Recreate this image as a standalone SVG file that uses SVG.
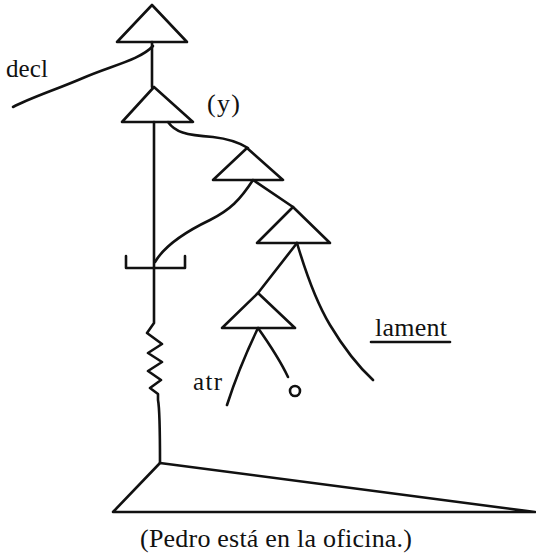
<svg xmlns="http://www.w3.org/2000/svg" width="536" height="556" viewBox="0 0 536 556">
<style>
.s{fill:none;stroke:#111;stroke-width:2.6;stroke-linejoin:round;stroke-linecap:round}
.t{font-family:"Liberation Serif","Times New Roman",serif;fill:#111}
</style>
<rect width="536" height="556" fill="#fff"/>
<g id="connectors">
<path class="s" d="M152,42 V87"/>
<path class="s" d="M153,46 C140,60 110,66 83,78 C55,90 30,98 13,107"/>
<path class="s" d="M154,122 V323 L147,333 L162,344 L148,353 L162,362 L148,371 L161,380 L150,388 L158,394 L158,400 C160,410 160,440 160,463"/>
<path class="s" d="M168,122 C175,132 185,135 213,137 C230,139 240,143 248,148"/>
<path class="s" d="M253,180 C240,200 230,210 210,220 C185,232 165,245 155,262"/>
<path class="s" d="M253,180 L293,207"/>
<path class="s" d="M297,243 C305,270 315,300 330,325 C345,350 360,368 373,380"/>
<path class="s" d="M297,243 L258,293"/>
<path class="s" d="M258,328 C245,355 235,380 227,405"/>
<path class="s" d="M258,328 C270,345 280,360 288,377"/>
</g>
<g id="n1"><path class="s" d="M152,5 L187,42 H117 Z"/></g>
<g id="n2"><path class="s" d="M154,87 L193,122 H122 Z"/></g>
<g id="n3"><path class="s" d="M247,148 L283,180 H213 Z"/></g>
<g id="n4"><path class="s" d="M293,207 L330,243 H257 Z"/></g>
<g id="n5"><path class="s" d="M258,293 L295,328 H222 Z"/></g>
<g id="bracket"><path class="s" d="M126,256 V268 H185 V256"/></g>
<g id="circle"><circle class="s" cx="295" cy="391" r="5"/></g>
<g id="bottom"><path class="s" d="M160,463 L535,512 H113 Z"/></g>
<g id="labels">
<text class="t" x="6" y="77" font-size="25" textLength="42">decl</text>
<text class="t" x="207" y="112" font-size="26" textLength="33">(y)</text>
<text class="t" x="193" y="390" font-size="25" textLength="29">atr</text>
<text class="t" x="375" y="336" font-size="26" textLength="72">lament</text>
<path class="s" d="M371,342 H450" stroke-width="2"/>
<text class="t" x="140" y="547" font-size="26" textLength="272">(Pedro está en la oficina.)</text>
</g>
</svg>
